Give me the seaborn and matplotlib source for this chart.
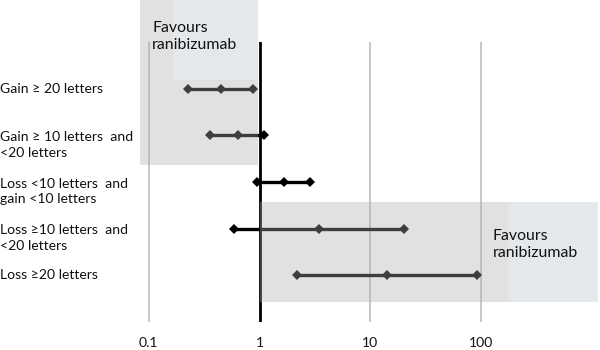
import numpy as np
import pandas as pd
import matplotlib
matplotlib.use("Agg")
import matplotlib.pyplot as plt
import seaborn as sns
from matplotlib.patches import Rectangle
from matplotlib.ticker import NullLocator, FixedLocator, FixedFormatter
import matplotlib.transforms as mtransforms

# ---------------- data ----------------
categories = [
    "Gain ≥ 20 letters",
    "Gain ≥ 10 letters  and\n<20 letters",
    "Loss <10 letters  and\ngain <10 letters",
    "Loss ≥10 letters  and\n<20 letters",
    "Loss ≥20 letters",
]
lower = [0.228, 0.357, 0.955, 0.589, 2.19]
estimate = [0.447, 0.636, 1.67, 3.44, 14.2]
upper = [0.869, 1.10, 2.87, 20.0, 91.8]
x_ticks = [0.1, 1, 10, 100]
x_tick_labels = ["0.1", "1", "10", "100"]
annotation = "Favours\nranibizumab"

rows = []
for i, cat in enumerate(categories):
    for kind, v in (("lower", lower[i]), ("estimate", estimate[i]), ("upper", upper[i])):
        rows.append({"category": cat, "row": i, "kind": kind, "value": v})
df = pd.DataFrame(rows)

# ---------------- style ----------------
sns.set_theme(style="white")
plt.rcParams["font.family"] = ["Lato", "DejaVu Sans"]
FS = 10.1
TXT = "#111111"

W, H = 600, 350
fig = plt.figure(figsize=(W / 100, H / 100), dpi=100)
AX_L, AX_R, AX_T, AX_B = 140, 598, 42, 322
ax = fig.add_axes([AX_L / W, (H - AX_B) / H, (AX_R - AX_L) / W, (AX_B - AX_T) / H])

PX1, DEC = 259.5, 110.8          # pixel of x=1, pixels per decade
def px2x(px):
    return 10 ** ((px - PX1) / DEC)
ROW_PX = (AX_B - AX_T) / 6.0
def py2y(py):
    return (py - AX_T) / ROW_PX - 1

ax.set_xscale("log")
ax.set_xlim(px2x(AX_L), px2x(AX_R))
ax.set_ylim(5, -1)

# gridlines
ax.xaxis.set_major_locator(FixedLocator(x_ticks))
ax.xaxis.set_major_formatter(FixedFormatter(x_tick_labels))
ax.xaxis.set_minor_locator(NullLocator())
for t in x_ticks:
    if t == 1:
        ax.axvline(t, color="black", lw=2.0, zorder=2)
    else:
        ax.axvline(t, color="#bdbdbd", lw=1.2, zorder=1)

# forest lines + diamonds
sns.lineplot(data=df, x="value", y="row", units="category", estimator=None,
             color="black", lw=2.4, marker="D", markersize=5.2,
             markeredgewidth=0, legend=False, ax=ax, zorder=3)

# shaded regions (semi-transparent overlays)
shade_kw = dict(facecolor="#adadad", alpha=0.36, edgecolor="none", zorder=5, clip_on=False)
ax.add_patch(Rectangle((px2x(140), py2y(0)), px2x(257.7) - px2x(140), py2y(165) - py2y(0), **shade_kw))
ax.add_patch(Rectangle((px2x(260), py2y(202)), px2x(598) - px2x(260), py2y(302) - py2y(202), **shade_kw))
box_kw = dict(facecolor="#e4e8ec", edgecolor="none", zorder=6, clip_on=False)
ax.add_patch(Rectangle((px2x(173), py2y(0)), px2x(257.7) - px2x(173), py2y(80) - py2y(0), **box_kw))
ax.add_patch(Rectangle((px2x(508), py2y(202)), px2x(598) - px2x(508), py2y(302) - py2y(202), **box_kw))

fig.text(152 / W, 1 - 36.5 / H, annotation, fontsize=11.4, color=TXT,
         ha="left", va="center", linespacing=1.35, zorder=10)
fig.text(493 / W, 1 - 244.5 / H, annotation, fontsize=11.4, color=TXT,
         ha="left", va="center", linespacing=1.35, zorder=10)

# category labels
trans = mtransforms.blended_transform_factory(fig.transFigure, ax.transData)
LINE_ROWS = 19.0 / ROW_PX
for i, cat in enumerate(categories):
    n_extra = cat.count("\n")
    ax.text(0.0, i + n_extra * LINE_ROWS / 2, cat, transform=trans, fontsize=FS,
            color=TXT, ha="left", va="center", linespacing=1.38)

ax.set_yticks([])
ax.set_xlabel("")
ax.set_ylabel("")
ax.tick_params(axis="x", length=0, pad=11, labelsize=FS, labelcolor=TXT)
for s in ax.spines.values():
    s.set_visible(False)
ax.set_facecolor("none")

fig.savefig("out.png", dpi=100)
